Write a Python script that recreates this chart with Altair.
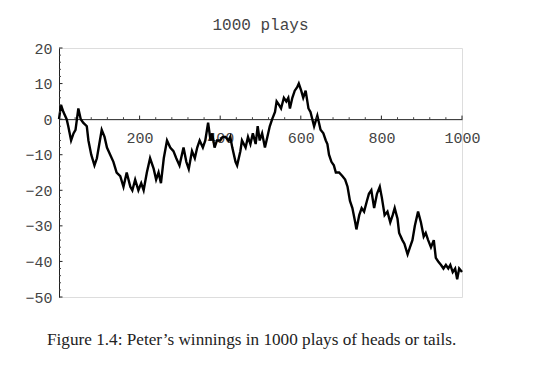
import altair as alt
import pandas as pd

# ---- data ----
steps = [0, 5, 11, 19, 23, 30, 36, 41, 48, 54, 60, 69, 73, 80, 88, 94, 100, 106, 113, 119,
         127, 135, 143, 152, 160, 168, 177, 182, 189, 197, 204, 210, 218, 226, 235, 241, 247,
         253, 260, 268, 276, 284, 291, 299, 309, 316, 322, 330, 337, 343, 349, 357, 363, 370,
         376, 380, 386, 392, 400, 406, 413, 421, 425, 430, 438, 442, 450, 454, 463, 469, 475,
         481, 488, 493, 498, 504, 511, 517, 523, 529, 536, 540, 546, 551, 558, 564, 569, 573,
         579, 585, 591, 595, 601, 606, 612, 619, 624, 633, 641, 649, 656, 662, 666, 670, 676,
         682, 687, 695, 703, 710, 716, 722, 728, 735, 738, 745, 751, 757, 764, 769, 775, 782,
         789, 796, 801, 808, 815, 822, 828, 833, 840, 844, 852, 857, 865, 871, 877, 883, 891,
         898, 905, 910, 916, 923, 930, 935, 941, 948, 954, 960, 966, 971, 977, 983, 988, 993,
         1000]
winnings = [0, 4, 2, 0, -2, -6, -4, -3, 3, 0, -1, -2, -6, -10, -13, -11, -7, -3, -5, -8,
            -10, -12, -15, -16, -19, -15, -19, -20, -17, -20, -18, -20, -15, -11, -14, -17, -15,
            -18, -11, -6, -8, -9, -11, -13, -8, -12, -14, -9, -11, -8, -6, -8, -6, -1,
            -6, -4, -8, -6, -6, -5, -5, -6, -5, -8, -12, -13, -9, -6, -8, -5, -7,
            -4, -7, -2, -6, -4, -8, -5, -2, 0, 2, 5, 4, 3, 6, 5, 6, 3,
            6, 8, 9, 10, 8, 6, 8, 3, 2, -2, 1, -3, -4, -6, -7, -10, -12,
            -13, -15, -15, -16, -17, -19, -23, -25, -29, -31, -27, -25, -26, -23, -21, -20, -25,
            -21, -19, -22, -27, -26, -29, -27, -25, -28, -32, -34, -35, -38, -36, -34, -30, -26,
            -29, -33, -32, -34, -36, -34, -39, -40, -41, -42, -41, -42, -41, -43, -42, -45, -42,
            -43]

x_labels = [200, 400, 600, 800, 1000]
y_labels = [-50, -40, -30, -20, -10, 0, 10, 20]
x_minor = [v for v in range(40, 1001, 40) if v % 200 != 0]
y_minor = [v for v in range(-50, 21, 2) if v % 10 != 0]

title_text = "1000 plays"
caption = "Figure 1.4: Peter\u2019s winnings in 1000 plays of heads or tails."

# ---- layout ----
W, H = 403, 249
X_DOM = [0, 1000]
Y_DOM = [-50, 20]
zero_pos = H * Y_DOM[1] / (Y_DOM[1] - Y_DOM[0])
MONO = "Liberation Mono"

xs = alt.Scale(domain=X_DOM, nice=False, zero=False)
ys = alt.Scale(domain=Y_DOM, nice=False, zero=False)

x_axis = alt.Axis(orient="bottom", offset=-(H - zero_pos), values=x_labels, title=None,
                  ticks=False, tickSize=0, grid=False, labelFont=MONO,
                  labelFontSize=15, labelColor="#444", labelPadding=11,
                  labelFlush=False, labelOverlap=False,
                  domainColor="#222", domainWidth=1, format="d")
y_axis = alt.Axis(orient="left", values=y_labels, title=None, ticks=False, tickSize=0,
                  grid=False, labelFont=MONO, labelFontSize=15,
                  labelColor="#444", labelPadding=7, labelFlush=False, labelOverlap=False,
                  domainColor="#222", domainWidth=1, format="d")

df = pd.DataFrame({"step": steps, "win": winnings})

line = alt.Chart(df).mark_line(color="black", strokeWidth=2.4).encode(
    x=alt.X("step:Q", scale=xs, title=None, axis=x_axis),
    y=alt.Y("win:Q", scale=ys, title=None, axis=y_axis),
)

ymaj = alt.Chart(pd.DataFrame({"v": y_labels})).mark_rule(color="#222", strokeWidth=1).encode(
    y=alt.Y("v:Q", scale=ys, title=None, axis=y_axis), x=alt.value(0), x2=alt.value(3.5))
ymin = alt.Chart(pd.DataFrame({"v": y_minor})).mark_rule(color="#444", strokeWidth=1).encode(
    y=alt.Y("v:Q", scale=ys, title=None, axis=y_axis), x=alt.value(0), x2=alt.value(2))

xmaj_df = pd.DataFrame({"v": x_labels, "a": [0.0] * len(x_labels), "b": [1.0] * len(x_labels)})
xmin_df = pd.DataFrame({"v": x_minor, "a": [0.0] * len(x_minor), "b": [0.55] * len(x_minor)})
xmaj = alt.Chart(xmaj_df).mark_rule(color="#222", strokeWidth=1).encode(
    x=alt.X("v:Q", scale=xs, title=None, axis=x_axis),
    y=alt.Y("a:Q", scale=ys, title=None, axis=y_axis), y2="b:Q")
xmin = alt.Chart(xmin_df).mark_rule(color="#444", strokeWidth=1).encode(
    x=alt.X("v:Q", scale=xs, title=None, axis=x_axis),
    y=alt.Y("a:Q", scale=ys, title=None, axis=y_axis), y2="b:Q")

cap = alt.Chart(pd.DataFrame({"t": [caption]})).mark_text(
    align="left", baseline="middle", font="Liberation Serif", fontSize=17.2, color="#222"
).encode(text="t:N", x=alt.value(-12), y=alt.value(292))

chart = alt.layer(line, xmin, xmaj, ymin, ymaj, cap).properties(
    width=W, height=H,
    title=alt.TitleParams(title_text, font=MONO, fontSize=16, fontWeight="normal",
                          color="#444", anchor="middle", frame="group", offset=8),
    autosize=alt.AutoSizeParams(type="none"),
    padding={"left": 51, "top": 40, "right": 66, "bottom": 70},
).configure_view(strokeWidth=0, stroke="transparent").configure(background="white")

chart.save("out.html", embed_options={"renderer": "svg", "actions": False})
